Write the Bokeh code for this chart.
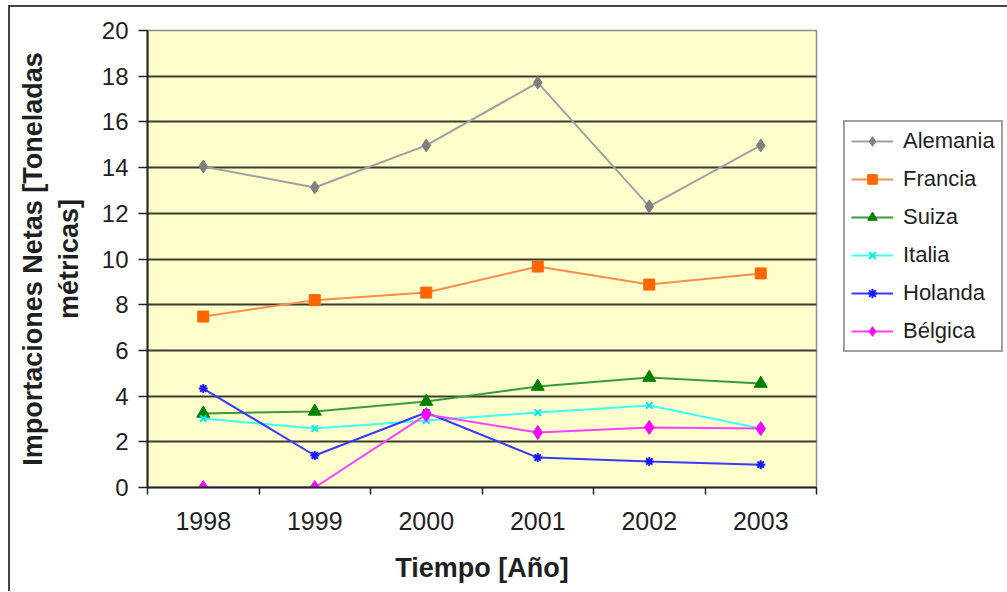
from bokeh.plotting import figure
from bokeh.models import (Legend, LegendItem, LinearAxis, CategoricalAxis, FixedTicker,
                          Range1d, FactorRange)
from bokeh.embed import file_html
from bokeh.resources import INLINE

years = ["1998", "1999", "2000", "2001", "2002", "2003"]
alemania = [14.05, 13.13, 14.97, 17.72, 12.3, 14.97]
francia = [7.48, 8.2, 8.53, 9.67, 8.88, 9.37]
suiza = [3.24, 3.33, 3.76, 4.42, 4.81, 4.55]
italia = [3.02, 2.58, 2.93, 3.28, 3.59, 2.58]
holanda = [4.33, 1.4, 3.28, 1.31, 1.14, 1.0]
belgica = [0.0, 0.0, 3.19, 2.41, 2.63, 2.58]
y_ticks = [0, 2, 4, 6, 8, 10, 12, 14, 16, 18, 20]

series = [
    ("Alemania", alemania, "#a0a0a0", "#7f7f7f", "diamond", 13),
    ("Francia", francia, "#ff8c4a", "#ff6600", "square", 11),
    ("Suiza", suiza, "#3a9a3a", "#008000", "triangle", 13),
    ("Italia", italia, "#40ffff", "#00e8e8", "x", 9),
    ("Holanda", holanda, "#3a3aff", "#1a1aff", "asterisk", 9),
    ("Bélgica", belgica, "#ff40ff", "#ff00ff", "diamond", 14),
]

FONT = "Liberation Sans"
TXT = "#1f1f1f"

p = figure(frame_width=669, frame_height=457, x_range=FactorRange(*years), y_range=Range1d(0, 20),
           output_backend="svg", toolbar_location=None, x_axis_location=None,
           min_border_left=137, min_border_right=20, min_border_top=23, min_border_bottom=104)
p.background_fill_color = "#ffffcc"
p.border_fill_color = "white"
p.outline_line_color = "#8c8c8c"
p.outline_line_width = 1.5
p.styles = {"border-left": "2px solid #444", "border-top": "2px solid #444",
            "margin-left": "8px", "margin-top": "5px"}

# y axis
ya = p.yaxis[0]
ya.ticker = FixedTicker(ticks=y_ticks)
ya.axis_line_color = "#222222"
ya.axis_line_width = 2
ya.major_tick_line_color = "#222222"
ya.major_tick_line_width = 1.5
ya.major_tick_out = 9
ya.major_tick_in = 0
ya.minor_tick_line_color = None
ya.major_label_text_font = FONT
ya.major_label_text_font_size = "24px"
ya.major_label_text_color = TXT
ya.major_label_standoff = 10
ya.axis_label = "Importaciones Netas [Toneladas\nmétricas]"
ya.axis_label_text_font = FONT
ya.axis_label_text_font_size = "27px"
ya.axis_label_text_font_style = "bold"
ya.axis_label_text_color = TXT
ya.axis_label_standoff = 15

p.ygrid.ticker = FixedTicker(ticks=y_ticks[1:-1])
p.ygrid.grid_line_color = "#3a3a30"
p.ygrid.grid_line_width = 2
p.xgrid.grid_line_color = None

# x axis: tick marks at category boundaries (synthetic coordinates) + category labels
tick_axis = LinearAxis(ticker=FixedTicker(ticks=list(range(len(years) + 1))),
                       major_label_text_font_size="0px", major_label_text_color=None,
                       major_label_standoff=0,
                       axis_line_color="#222222", axis_line_width=2,
                       major_tick_line_color="#222222", major_tick_line_width=1.5,
                       major_tick_out=7, major_tick_in=0, minor_tick_line_color=None)
p.add_layout(tick_axis, "below")
cat_axis = CategoricalAxis(axis_line_color=None, major_tick_line_color=None,
                           major_tick_in=0, major_tick_out=0,
                           major_label_text_font=FONT, major_label_text_font_size="25px",
                           major_label_text_color=TXT, major_label_standoff=17,
                           axis_label="Tiempo [Año]", axis_label_text_font=FONT,
                           axis_label_text_font_size="27px", axis_label_text_font_style="bold",
                           axis_label_text_color=TXT, axis_label_standoff=20)
p.add_layout(cat_axis, "below")

items = []
for name, vals, lc, mc, marker, size in series:
    r1 = p.line(years, vals, line_color=lc, line_width=2)
    r2 = p.scatter(years, vals, marker=marker, size=size, fill_color=mc, line_color=mc,
                   line_width=2 if marker in ("x", "asterisk") else 1)
    items.append(LegendItem(label=name, renderers=[r1, r2]))

legend = Legend(items=items, location=(27, 135), orientation="vertical")
legend.label_text_font = FONT
legend.label_text_font_size = "22px"
legend.label_text_color = TXT
legend.glyph_width = 42
legend.glyph_height = 24
legend.label_height = 24
legend.label_standoff = 10
legend.spacing = 12
legend.padding = 6
legend.margin = 0
legend.border_line_color = "#444444"
legend.border_line_width = 2
legend.background_fill_color = "white"
p.add_layout(legend, "right")

open("out.html", "w").write(file_html(p, INLINE))
